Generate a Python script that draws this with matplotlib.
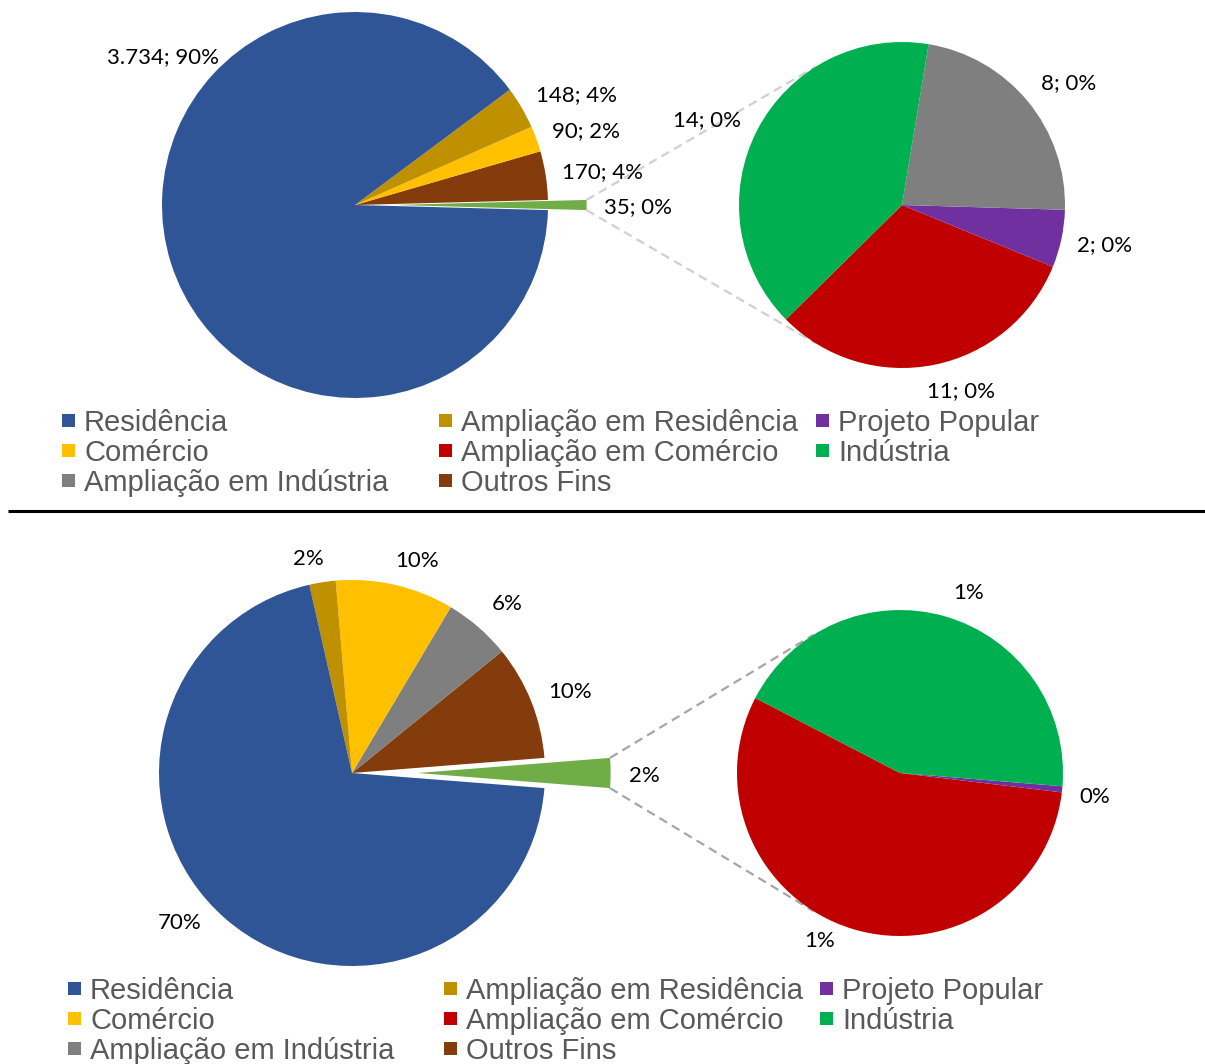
import numpy as np
import matplotlib
matplotlib.use("Agg")
import matplotlib.pyplot as plt
from matplotlib.patches import Rectangle

W, H = 1205, 1064

# ---- data -------------------------------------------------------------
legend_order = ["Residência", "Ampliação em Residência", "Projeto Popular",
                "Comércio", "Ampliação em Comércio", "Indústria",
                "Ampliação em Indústria", "Outros Fins"]

palette = {
    "Residência": "#2F5597",
    "Ampliação em Residência": "#BF9000",
    "Projeto Popular": "#7030A0",
    "Comércio": "#FFC000",
    "Ampliação em Comércio": "#C00000",
    "Indústria": "#00B050",
    "Ampliação em Indústria": "#7F7F7F",
    "Outros Fins": "#843C0C",
}
other_color = "#70AD47"

# upper chart: number of licences
top_main_cats = ["Residência", "Ampliação em Residência", "Comércio", "Outros Fins"]
top_main_vals = [3734, 148, 90, 170]
top_sec_cats = ["Ampliação em Comércio", "Projeto Popular", "Ampliação em Indústria", "Indústria"]
top_sec_vals = [11, 2, 8, 14]

# lower chart: share of built area (%)
bot_main_cats = ["Residência", "Ampliação em Residência", "Comércio",
                 "Ampliação em Indústria", "Outros Fins"]
bot_main_vals = [70.2, 2.2, 9.9, 5.6, 9.6]
bot_sec_cats = ["Ampliação em Comércio", "Projeto Popular", "Indústria"]
bot_sec_vals = [1.39, 0.015, 1.09]


def rounded_percents(values):
    """Integer percentages that add up to 100 (largest remainder)."""
    v = np.asarray(values, float)
    raw = v / v.sum() * 100
    base = np.floor(raw).astype(int)
    rest = 100 - base.sum()
    order = np.argsort(-(raw - base))
    base[order[:rest]] += 1
    return base


def thousands(v):
    return f"{v:,}".replace(",", ".")


fig = plt.figure(figsize=(W / 100, H / 100), dpi=100)
ax = fig.add_axes([0, 0, 1, 1])

LABEL_FONT = dict(family=["Lato", "DejaVu Sans"], size=16, color="black")
LEGEND_FONT = dict(family=["Liberation Sans", "DejaVu Sans"], size=21, color="#595959")


def pie_of_pie(main_cats, main_vals, sec_cats, sec_vals, main_c, main_r, sec_c, sec_r,
               explode, sec_start, link_color, main_offsets, other_offset, sec_offsets,
               show_values):
    other = sum(sec_vals)
    total = sum(main_vals) + other
    pcts = rounded_percents(list(main_vals) + list(sec_vals))
    main_p = pcts[:len(main_vals)]
    sec_p = pcts[len(main_vals):]
    other_p = sec_p.sum()

    def fmt(v, p):
        return f"{thousands(v)}; {p}%" if show_values else f"{p}%"

    # main pie, counter-clockwise starting with the "other" slice centred on 3 o'clock
    vals = [other] + list(main_vals)[::-1]
    cols = [other_color] + [palette[c] for c in main_cats][::-1]
    shift = explode * main_r          # pie() takes the offset in data units
    expl = [shift] + [0] * len(main_vals)
    start = -180.0 * other / total
    ax.pie(vals, colors=cols, startangle=start, radius=main_r, center=main_c,
           explode=expl, wedgeprops=dict(linewidth=0))

    # secondary pie
    ax.pie(sec_vals, colors=[palette[c] for c in sec_cats], startangle=sec_start,
           radius=sec_r, center=sec_c, wedgeprops=dict(linewidth=0))

    # connector lines from the detached slice to the secondary pie
    half = np.deg2rad(180.0 * other / total)
    apex = np.array(main_c) + np.array([shift, 0.0])
    for s in (1, -1):
        p0 = apex + main_r * np.array([np.cos(half), s * np.sin(half)])
        a = np.deg2rad(122 * s)
        p1 = np.array(sec_c) + sec_r * np.array([np.cos(a), np.sin(a)])
        ax.plot([p0[0], p1[0]], [p0[1], p1[1]], color=link_color, lw=1.6,
                ls=(0, (4, 2.5)), zorder=0)

    # data labels
    for c, v, p, off in zip(main_cats, main_vals, main_p, main_offsets):
        ax.text(main_c[0] + off[0], main_c[1] + off[1], fmt(v, p),
                ha="center", va="center", **LABEL_FONT)
    ax.text(main_c[0] + other_offset[0], main_c[1] + other_offset[1], fmt(other, other_p),
            ha="center", va="center", **LABEL_FONT)
    for c, v, p, off in zip(sec_cats, sec_vals, sec_p, sec_offsets):
        ax.text(sec_c[0] + off[0], sec_c[1] + off[1], fmt(v, p),
                ha="center", va="center", **LABEL_FONT)


def legend(x_text, baselines):
    for i, cat in enumerate(legend_order):
        row, col = divmod(i, 3)
        xt = x_text[col]
        yb = baselines[row]
        ax.add_patch(Rectangle((xt - 22, yb + 4), 13, 13, facecolor=palette[cat],
                               edgecolor="none"))
        ax.text(xt, yb, cat, ha="left", va="baseline", **LEGEND_FONT)


# upper chart
pie_of_pie(top_main_cats, top_main_vals, top_sec_cats, top_sec_vals,
           main_c=(355, H - 205), main_r=193, sec_c=(902, H - 205), sec_r=163,
           explode=0.2, sec_start=-135.4, link_color="#D0D0D0",
           main_offsets=[(-192, 148), (221, 110), (231, 74), (247, 33)],
           other_offset=(283, -2),
           sec_offsets=[(59, -186), (203, -40), (167, 122), (-195, 85)],
           show_values=True)
legend([84, 461, 838], [H - 431, H - 461, H - 491])

# separator
ax.plot([8, W], [H - 511, H - 511], color="black", lw=2.2, solid_capstyle="butt")

# lower chart
pie_of_pie(bot_main_cats, bot_main_vals, bot_sec_cats, bot_sec_vals,
           main_c=(352, H - 773), main_r=193, sec_c=(900, H - 773), sec_r=163,
           explode=0.34, sec_start=152.6, link_color="#A6A6A6",
           main_offsets=[(-172, -150), (-44, 214), (65, 212), (155, 169), (218, 81)],
           other_offset=(292, -3),
           sec_offsets=[(-80, -168), (195, -24), (69, 180)],
           show_values=False)
legend([90, 466, 842], [H - 999, H - 1029, H - 1059])

ax.set_xlim(0, W)
ax.set_ylim(0, H)
ax.set_aspect("equal")
ax.axis("off")

fig.savefig("out.png", dpi=100, facecolor="white")
